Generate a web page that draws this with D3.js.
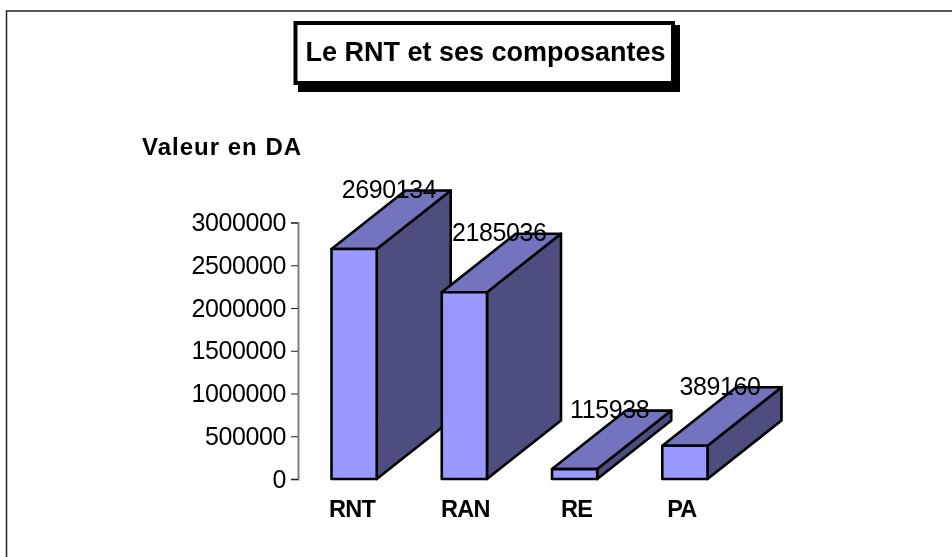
<!DOCTYPE html>
<html>
<head>
<meta charset="utf-8">
<script src="https://cdn.jsdelivr.net/npm/d3@7"></script>
<style>
html, body { margin: 0; padding: 0; background: #fff; }
svg { display: block; filter: blur(0.35px); }
text { font-family: "Liberation Sans", Arial, sans-serif; fill: #000; }
</style>
</head>
<body>
<div id="chart"></div>
<script>
var categories = ["RNT", "RAN", "RE", "PA"];
var values = [2690134, 2185036, 115938, 389160];
var tickValues = [0, 500000, 1000000, 1500000, 2000000, 2500000, 3000000];

var titleText = "Le RNT et ses composantes";
var yTitle = "Valeur en DA";

var width = 952;
var height = 557;
var depthX = 74; // 3d offset of the bars
var depthY = 58.5;
var catNudge = [-2, 1, 2, -3]; // labels are not quite centred under the bars

var svg = d3.select("#chart").append("svg")
    .attr("width", width)
    .attr("height", height);

// frame, only top and left are in the picture
svg.append("path")
    .attr("d", "M6.5," + height + "V11H" + width)
    .attr("fill", "none")
    .attr("stroke", "#222")
    .attr("stroke-width", 1.5);

var x = d3.scaleBand()
    .domain(categories)
    .range([331.5, 707.5])
    .paddingInner(0.59);

var y = d3.scaleLinear()
    .domain([0, 3000000])
    .range([479, 222.5]);

// y axis
var yAxis = svg.append("g")
    .attr("transform", "translate(298,0)")
    .call(d3.axisLeft(y).tickValues(tickValues).tickFormat(d3.format("d")).tickSize(7).tickPadding(5));
yAxis.select(".domain").attr("stroke", "#808080").attr("stroke-width", 2);
yAxis.selectAll(".tick line").attr("stroke", "#222").attr("stroke-width", 1);
yAxis.selectAll(".tick text")
    .attr("font-size", 25)
    .attr("letter-spacing", -0.4)
    .style("font-family", '"Liberation Sans", Arial, sans-serif');

// bars
var bars = svg.selectAll("g.bar")
    .data(categories)
    .enter().append("g")
    .attr("class", "bar")
    .attr("stroke", "#000")
    .attr("stroke-width", 2.6)
    .attr("stroke-linejoin", "round");

function poly(points) {
    return d3.line()(points) + "Z";
}

bars.each(function(d, i) {
    var g = d3.select(this);
    var x0 = x(d);
    var x1 = x0 + x.bandwidth();
    var y0 = y(0);
    var y1 = y(values[i]);

    // side
    g.append("path")
        .attr("fill", "#4D4D80")
        .attr("d", poly([[x1, y1], [x1 + depthX, y1 - depthY], [x1 + depthX, y0 - depthY], [x1, y0]]));
    // top
    g.append("path")
        .attr("fill", "#7373BF")
        .attr("d", poly([[x0, y1], [x0 + depthX, y1 - depthY], [x1 + depthX, y1 - depthY], [x1, y1]]));
    // front
    g.append("path")
        .attr("fill", "#9999FF")
        .attr("d", poly([[x0, y0], [x0, y1], [x1, y1], [x1, y0]]));
});

// value labels sit on top of the bars
svg.selectAll("text.value")
    .data(categories)
    .enter().append("text")
    .attr("class", "value")
    .attr("x", function(d) { return x(d) + x.bandwidth() / 2 + depthX / 2 - 2; })
    .attr("y", function(d, i) { return y(values[i]) - depthY + 7.5; })
    .attr("text-anchor", "middle")
    .attr("font-size", 25)
    .attr("letter-spacing", -0.4)
    .text(function(d, i) { return values[i]; });

// category labels
svg.selectAll("text.cat")
    .data(categories)
    .enter().append("text")
    .attr("class", "cat")
    .attr("x", function(d, i) { return x(d) + x.bandwidth() / 2 + catNudge[i]; })
    .attr("y", 517)
    .attr("text-anchor", "middle")
    .attr("font-size", 23.5)
    .attr("font-weight", "bold")
    .attr("letter-spacing", -0.7)
    .text(function(d) { return d; });

// y title
svg.append("text")
    .attr("x", 142)
    .attr("y", 155)
    .attr("font-size", 24)
    .attr("font-weight", "bold")
    .attr("letter-spacing", 1)
    .text(yTitle);

// title box with its shadow
svg.append("rect")
    .attr("x", 298).attr("y", 25)
    .attr("width", 382).attr("height", 67)
    .attr("fill", "#000");
svg.append("rect")
    .attr("x", 295.5).attr("y", 23)
    .attr("width", 377.5).attr("height", 60)
    .attr("fill", "#fff")
    .attr("stroke", "#000")
    .attr("stroke-width", 4);
svg.append("text")
    .attr("x", 485.5)
    .attr("y", 61)
    .attr("text-anchor", "middle")
    .attr("font-size", 27)
    .attr("font-weight", "bold")
    .text(titleText);
</script>
</body>
</html>
